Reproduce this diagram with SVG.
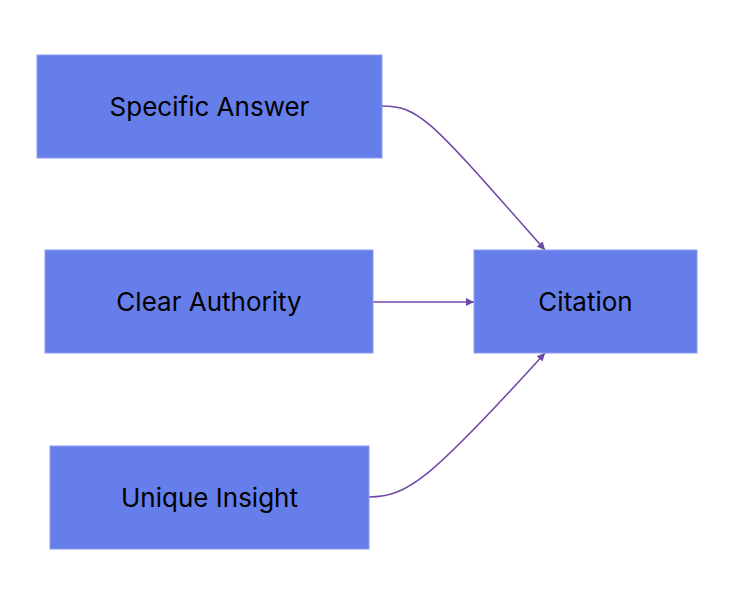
<svg xmlns="http://www.w3.org/2000/svg" width="734" height="604" viewBox="0 0 734 604">
<style>
.n{fill:#667eea;stroke:#8b9cf0;stroke-width:1}
.t{font-family:Inter,"Liberation Sans",sans-serif;font-size:26px;fill:#000;text-anchor:middle;dominant-baseline:central}
.e{fill:none;stroke:#7048a8;stroke-width:1.6}
</style>
<defs><marker id="a" viewBox="0 0 10 10" refX="10" refY="5" markerWidth="8" markerHeight="8" markerUnits="userSpaceOnUse" orient="auto"><path d="M0,0L10,5L0,10z" fill="#7048a8"/></marker></defs>
<rect width="734" height="604" fill="#fff"/>
<g id="edges">
<path class="e" marker-end="url(#a)" d="M382,106 C420,106 430,120 545,250"/>
<path class="e" marker-end="url(#a)" d="M373,302 L474,302"/>
<path class="e" marker-end="url(#a)" d="M369,497 C407,497 430,480 545,353"/>
</g>
<g id="n1"><rect class="n" x="37" y="55" width="345" height="103"/><text class="t" x="209.5" y="106.5">Specific Answer</text></g>
<g id="n2"><rect class="n" x="45" y="250" width="328" height="103"/><text class="t" x="209" y="301.5">Clear Authority</text></g>
<g id="n3"><rect class="n" x="50" y="446" width="319" height="103"/><text class="t" x="209.5" y="497.5">Unique Insight</text></g>
<g id="n4"><rect class="n" x="474" y="250" width="223" height="103"/><text class="t" x="585.5" y="301.5">Citation</text></g>
</svg>
